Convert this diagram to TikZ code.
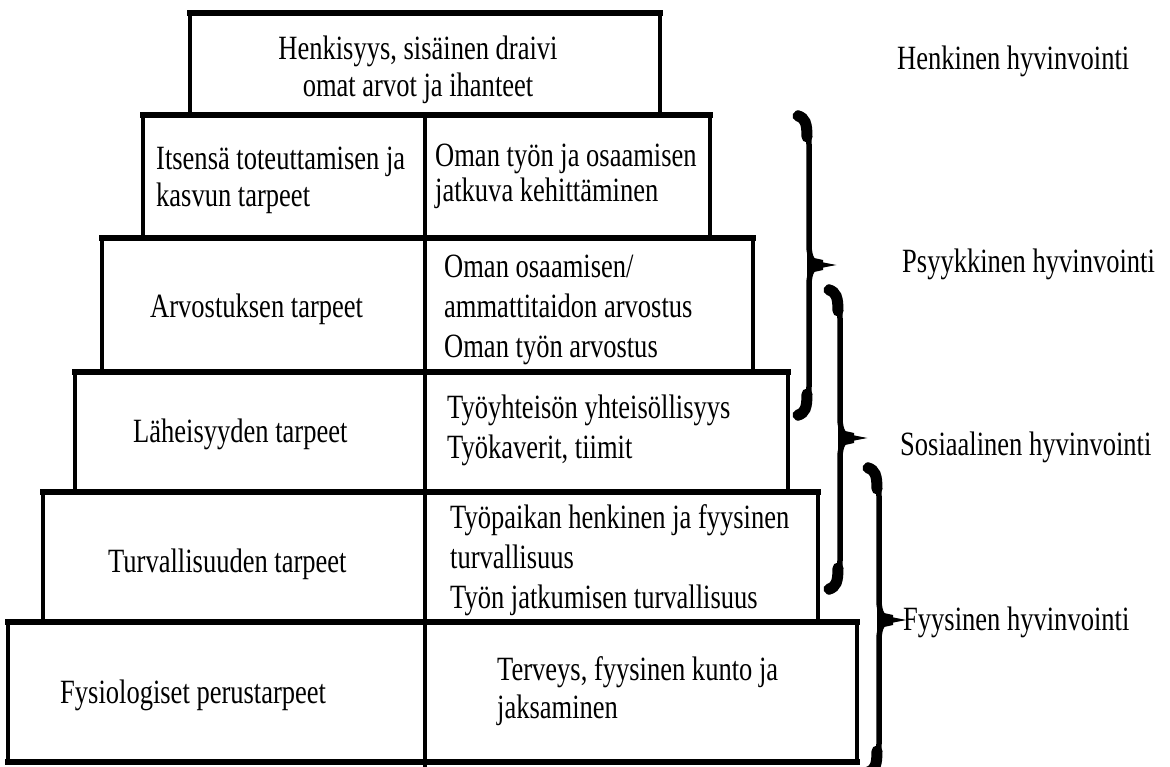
\documentclass[tikz,border=0pt]{standalone}
\usepackage{fontspec}
\setmainfont[FakeStretch=0.78]{Liberation Serif}
\newcommand\mybracepath[4]{%
  \draw[bracestroke] (#1-11,#2) .. controls (#1-1,#2+3) and (#1,#2+12) .. (#1,#2+34)
    -- (#1,#3-20) .. controls (#1,#3-7) and (#1+4,#3-1) .. (#1+13,#3)
    .. controls (#1+4,#3+1) and (#1,#3+7) .. (#1,#3+20)
    -- (#1,#4-34) .. controls (#1,#4-12) and (#1-1,#4-3) .. (#1-11,#4);
  \draw[braceend] (#1-11,#2+3) .. controls (#1-4,#2+5) and (#1-2,#2+10) .. (#1-2,#2+24);
  \draw[braceend] (#1-11,#4-3) .. controls (#1-4,#4-5) and (#1-2,#4-10) .. (#1-2,#4-24);
  \fill (#1-2,#3-13) -- (#1+5,#3-7) -- (#1+14,#3-5) -- (#1+14,#3+5) -- (#1+5,#3+7) -- (#1-2,#3+13) -- cycle;
}
\begin{document}
\begin{tikzpicture}[x=1pt,y=-1pt,
  hline/.style={line width=6pt,line cap=rect},
  vline/.style={line width=4pt},
  bracestroke/.style={line width=5.5pt,line cap=round},
  braceend/.style={line width=11pt,line cap=round},
  txt/.style={inner sep=0pt,font=\fontsize{34}{40}\selectfont,align=left,anchor=base west},
  ctxt/.style={txt,align=center,anchor=base}]
\useasboundingbox[fill=white] (0,0) rectangle (1170,767);
% vertical sides
\draw[vline] (190,13) -- (190,115) (660,13) -- (660,115);
\draw[vline] (143,115) -- (143,238) (710,115) -- (710,238);
\draw[vline] (102,238) -- (102,372) (753,238) -- (753,372);
\draw[vline] (75,372) -- (75,492) (788,372) -- (788,492);
\draw[vline] (43,492) -- (43,622) (818,492) -- (818,622);
\draw[vline] (8,622) -- (8,762) (857,622) -- (857,762);
\draw[vline] (425,115) -- (425,767);
% horizontal edges
\draw[hline] (190,13) -- (660,13);
\draw[hline] (143,115) -- (710,115);
\draw[hline] (102,238) -- (753,238);
\draw[hline] (75,372) -- (788,372);
\draw[hline] (43,492) -- (818,492);
\draw[hline] (8,622) -- (857,622);
\draw[hline] (8,762) -- (857,762);
% texts (base anchor = baseline of the last line)
\node[ctxt] (top) at (418,97) {Henkisyys, sisäinen draivi\\[-3pt]omat arvot ja ihanteet};
\node[txt] (l2) at (156,207) {Itsensä toteuttamisen ja\\[-3pt]kasvun tarpeet};
\node[txt] (r2) at (435,202) {Oman työn ja osaamisen\\[-5pt]jatkuva kehittäminen};
\node[txt] (l3) at (150,318) {Arvostuksen tarpeet};
\node[txt] (r3) at (444,357) {Oman osaamisen/\\ammattitaidon arvostus\\Oman työn arvostus};
\node[txt] (l4) at (133,442) {Läheisyyden tarpeet};
\node[txt] (r4) at (447,458) {Työyhteisön yhteisöllisyys\\Työkaverit, tiimit};
\node[txt] (l5) at (108,572) {Turvallisuuden tarpeet};
\node[txt] (r5) at (450,608) {Työpaikan henkinen ja fyysinen\\turvallisuus\\Työn jatkumisen turvallisuus};
\node[txt] (l6) at (60,703) {Fysiologiset perustarpeet};
\node[txt] (r6) at (497,718) {Terveys, fyysinen kunto ja\\[-2pt]jaksaminen};
% right labels
\node[txt] (henk) at (897,70) {Henkinen hyvinvointi};
\node[txt] (psyk) at (902,273) {Psyykkinen hyvinvointi};
\node[txt] (sos) at (900,455) {Sosiaalinen hyvinvointi};
\node[txt] (fyys) at (903,630) {Fyysinen hyvinvointi};
% braces
\mybracepath{809}{113}{265}{418}
\mybracepath{840}{287}{438}{592}
\mybracepath{879}{465}{620}{775}
\end{tikzpicture}
\end{document}
